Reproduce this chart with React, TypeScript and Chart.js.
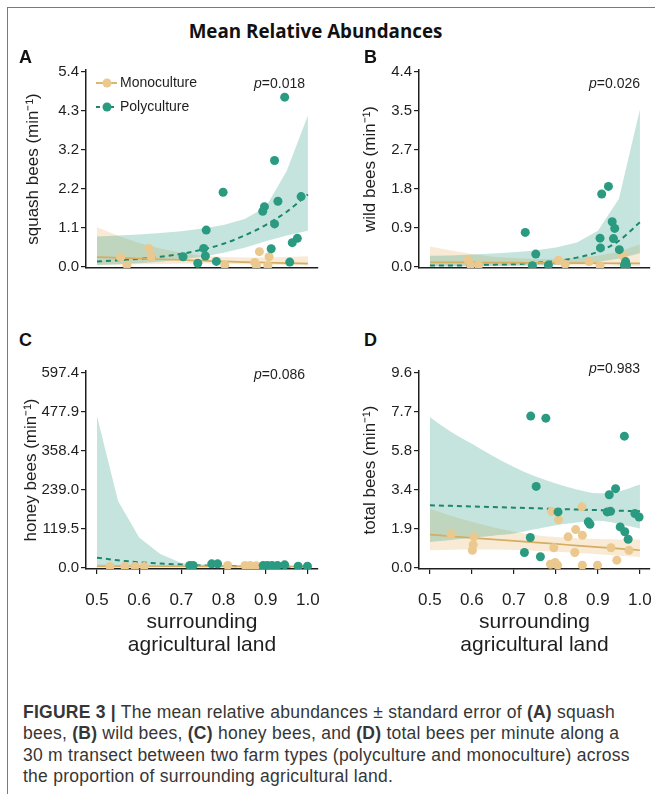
import React, { useEffect, useRef } from 'react';
import { Chart, registerables } from 'chart.js';

Chart.register(...registerables);
Chart.defaults.font.family = "'Liberation Sans', Arial, sans-serif";

// ---------- shared ----------
const fitX = [0.5, 0.55, 0.6, 0.65, 0.7, 0.75, 0.8, 0.85, 0.9, 0.95, 1.0];
const xTicks = [0.5, 0.6, 0.7, 0.8, 0.9, 1.0];
const xTickLabels = ['0.5', '0.6', '0.7', '0.8', '0.9', '1.0'];
const xTitle = ['surrounding', 'agricultural land'];
const legendLabels = ['Monoculture', 'Polyculture'];
const mainTitle = 'Mean Relative Abundances';

// ---------- panel A: squash bees ----------
const aYTicks = [0, 1.08, 2.16, 3.24, 4.32, 5.4];
const aYLabels = ['0.0', '1.1', '2.2', '3.2', '4.3', '5.4'];
const aPolyX = [0.945, 0.921, 0.799, 0.984, 0.929, 0.897, 0.893, 0.921, 0.759, 0.753, 0.975, 0.963, 0.913, 0.704, 0.757, 0.783, 0.739, 0.957];
const aPolyY = [4.7, 2.94, 2.06, 1.94, 1.81, 1.66, 1.53, 1.18, 1.01, 0.5, 0.78, 0.66, 0.49, 0.27, 0.29, 0.14, 0.09, 0.12];
const aMonoX = [0.623, 0.556, 0.629, 0.571, 0.803, 0.885, 0.908, 0.874, 0.878, 0.905];
const aMonoY = [0.5, 0.25, 0.27, 0.04, 0.04, 0.41, 0.27, 0.11, 0.02, 0.02];
const aPolyFit = [0.14, 0.17, 0.21, 0.27, 0.35, 0.47, 0.63, 0.86, 1.15, 1.52, 2.0];
const aPolyLo = [0.04, 0.06, 0.09, 0.13, 0.19, 0.27, 0.38, 0.52, 0.7, 0.86, 0.99];
const aPolyHi = [0.83, 0.86, 0.89, 0.93, 0.98, 1.05, 1.15, 1.32, 1.64, 2.66, 4.19];
const aMonoFit = [0.26, 0.24, 0.22, 0.2, 0.18, 0.16, 0.14, 0.12, 0.11, 0.09, 0.08];
const aMonoLo = [0.04, 0.05, 0.06, 0.07, 0.08, 0.08, 0.07, 0.06, 0.05, 0.04, 0.03];
const aMonoHi = [1.09, 0.85, 0.65, 0.5, 0.38, 0.3, 0.26, 0.25, 0.25, 0.26, 0.28];

// ---------- panel B: wild bees ----------
const bYTicks = [0, 0.88, 1.76, 2.64, 3.52, 4.4];
const bYLabels = ['0.0', '0.9', '1.8', '2.7', '3.5', '4.4'];
const bPolyX = [0.727, 0.752, 0.744, 0.782, 0.909, 0.925, 0.905, 0.906, 0.934, 0.94, 0.937, 0.951, 0.966, 0.968, 0.963];
const bPolyY = [0.77, 0.28, 0.015, 0.03, 1.64, 1.81, 0.64, 0.42, 1.01, 0.86, 0.63, 0.38, 0.11, 0.03, 0.03];
const bMonoX = [0.591, 0.597, 0.616, 0.806, 0.822, 0.879, 0.905, 0.959, 0.964];
const bMonoY = [0.14, 0.03, 0.03, 0.14, 0.05, 0.11, 0.015, 0.24, 0.05];
const bPolyFit = [0.02, 0.02, 0.03, 0.04, 0.05, 0.08, 0.12, 0.2, 0.33, 0.58, 1.0];
const bPolyLo = [0, 0, 0.005, 0.01, 0.01, 0.02, 0.03, 0.06, 0.1, 0.18, 0.3];
const bPolyHi = [0.24, 0.25, 0.27, 0.29, 0.32, 0.36, 0.43, 0.54, 0.81, 1.53, 3.55];
const bMonoFit = [0.09, 0.09, 0.09, 0.085, 0.085, 0.08, 0.08, 0.075, 0.075, 0.07, 0.07];
const bMonoLo = [0.01, 0.015, 0.02, 0.02, 0.025, 0.025, 0.025, 0.02, 0.02, 0.015, 0.01];
const bMonoHi = [0.45, 0.36, 0.28, 0.22, 0.19, 0.17, 0.17, 0.19, 0.24, 0.33, 0.5];

// ---------- panel C: honey bees ----------
const cYTicks = [0, 119.48, 238.96, 358.44, 477.92, 597.4];
const cYLabels = ['0.0', '119.5', '239.0', '358.4', '477.9', '597.4'];
const cPolyX = [0.72, 0.728, 0.772, 0.786, 0.894, 0.904, 0.915, 0.928, 0.945, 0.977, 0.999];
const cPolyY = [6, 6, 11, 11, 6, 6, 6, 6, 8, 4, 4];
const cMonoX = [0.531, 0.566, 0.59, 0.612, 0.81, 0.851, 0.863, 0.877];
const cMonoY = [3, 3, 3, 3, 6, 6, 6, 5];
const cPolyFit = [30, 22, 16, 12, 9, 6, 4.5, 3.5, 2.8, 2.2, 1.8];
const cPolyLo = [2.5, 2, 1.6, 1.2, 1, 0.8, 0.6, 0.5, 0.4, 0.3, 0.2];
const cPolyHi = [465, 204, 92, 41, 14, 9, 7, 6, 5, 5, 5];
const cMonoFit = [3.5, 3.4, 3.3, 3.2, 3.2, 3.1, 3.0, 3.0, 2.9, 2.9, 2.8];
const cMonoLo = [1, 1.2, 1.4, 1.5, 1.6, 1.7, 1.8, 1.8, 1.8, 1.7, 1.6];
const cMonoHi = [9, 8, 7, 6.5, 6, 5.6, 5.2, 5, 4.8, 4.8, 4.8];

// ---------- panel D: total bees ----------
const dYTicks = [0, 1.92, 3.84, 5.76, 7.68, 9.6];
const dYLabels = ['0.0', '1.9', '3.4', '5.8', '7.7', '9.6'];
const dPolyX = [0.74, 0.776, 0.963, 0.753, 0.942, 0.927, 0.805, 0.922, 0.93, 0.988, 0.998, 0.877, 0.881, 0.953, 0.964, 0.972, 0.739, 0.725, 0.763];
const dPolyY = [7.47, 7.37, 6.48, 4.0, 3.89, 3.59, 2.74, 2.74, 2.77, 2.66, 2.49, 2.25, 2.13, 2.0, 1.76, 1.39, 1.48, 0.74, 0.53];
const dMonoX = [0.55, 0.605, 0.603, 0.601, 0.79, 0.862, 0.806, 0.847, 0.829, 0.863, 0.795, 0.845, 0.931, 0.974, 0.945, 0.787, 0.798, 0.804, 0.863, 0.899];
const dMonoY = [1.64, 1.51, 1.12, 0.85, 2.76, 2.99, 2.36, 1.87, 1.51, 1.59, 0.97, 0.74, 0.97, 0.85, 0.36, 0.16, 0.25, 0.11, 0.11, 0.11];
const dPolyFit = [3.07, 3.04, 3.01, 2.98, 2.95, 2.92, 2.89, 2.86, 2.83, 2.8, 2.77];
const dPolyLo = [1.26, 1.36, 1.47, 1.57, 1.67, 1.88, 2.08, 2.22, 2.3, 2.15, 1.92];
const dPolyHi = [7.42, 6.7, 6.1, 5.5, 4.96, 4.5, 4.14, 3.85, 3.66, 3.75, 4.09];
const dMonoFit = [1.62, 1.54, 1.46, 1.39, 1.31, 1.24, 1.16, 1.08, 1.0, 0.93, 0.85];
const dMonoLo = [0.85, 0.87, 0.88, 0.88, 0.86, 0.83, 0.78, 0.72, 0.65, 0.58, 0.52];
const dMonoHi = [2.9, 2.55, 2.25, 1.98, 1.76, 1.6, 1.5, 1.44, 1.4, 1.38, 1.38];

// ---------- styles ----------
const TEAL = '#2a9a80';
const TEAL_LINE = '#1d876d';
const TAN = '#ebc88e';
const TAN_LINE = '#d6ae62';
const TEAL_BAND = 'rgba(42,157,130,0.27)';
const TAN_BAND = 'rgba(232,190,120,0.32)';
const INK = '#1e1e1e';
const FONT = "'Liberation Sans', Arial, sans-serif";

type Spec = {
  yTitle: string;
  yTicks: number[];
  yLabels: string[];
  polyX: number[]; polyY: number[];
  monoX: number[]; monoY: number[];
  polyFit: number[]; polyLo: number[]; polyHi: number[];
  monoFit: number[]; monoLo: number[]; monoHi: number[];
  bottomRow: boolean;
  smoothBands: boolean;
  legend: boolean;
};

type Box = { left: number; top: number; w: number; h: number; yw: number; xh: number; padTop: number; padRight: number; titlePad: number };

const zip = (xs: number[], ys: number[]) => xs.map((x, i) => ({ x, y: ys[i] }));

const legendPlugin = {
  id: 'insetLegend',
  afterDatasetsDraw(chart: any) {
    const { ctx, chartArea } = chart;
    const items = [
      { label: legendLabels[0], fill: TAN, line: TAN_LINE, dash: [] as number[] },
      { label: legendLabels[1], fill: TEAL, line: TEAL_LINE, dash: [4, 3] },
    ];
    items.forEach((it, i) => {
      const y = chartArea.top + 13 + i * 24;
      const x0 = chartArea.left + 10;
      ctx.save();
      ctx.strokeStyle = it.line;
      ctx.lineWidth = 1.8;
      ctx.setLineDash(it.dash);
      ctx.beginPath();
      ctx.moveTo(x0, y);
      ctx.lineTo(x0 + 21, y);
      ctx.stroke();
      ctx.setLineDash([]);
      ctx.fillStyle = it.fill;
      ctx.beginPath();
      ctx.arc(x0 + 11, y, 4.5, 0, Math.PI * 2);
      ctx.fill();
      ctx.fillStyle = INK;
      ctx.font = `14px ${FONT}`;
      ctx.textBaseline = 'middle';
      ctx.textAlign = 'left';
      ctx.fillText(it.label, x0 + 24, y);
      ctx.restore();
    });
  },
};

function buildConfig(p: Spec, b: Box): any {
  const band = (ys: number[], fill: any, color: string) => ({
    data: zip(fitX, ys),
    borderWidth: 0,
    borderColor: 'rgba(0,0,0,0)',
    pointRadius: 0,
    fill,
    backgroundColor: color,
    tension: 0,
    cubicInterpolationMode: p.smoothBands ? 'monotone' : 'default',
    order: 3,
  });
  const top = p.yTicks[p.yTicks.length - 1];
  return {
    type: 'line',
    data: {
      datasets: [
        band(p.polyHi, '+1', TEAL_BAND),
        band(p.polyLo, false, 'rgba(0,0,0,0)'),
        band(p.monoHi, '+1', TAN_BAND),
        band(p.monoLo, false, 'rgba(0,0,0,0)'),
        {
          data: zip(fitX, p.monoFit), borderColor: TAN_LINE, borderWidth: 1.7, pointRadius: 0, fill: false,
          cubicInterpolationMode: 'monotone', order: 2,
        },
        {
          data: zip(fitX, p.polyFit), borderColor: TEAL_LINE, borderWidth: 2, borderDash: [5, 4], pointRadius: 0, fill: false,
          cubicInterpolationMode: 'monotone', order: 2,
        },
        {
          data: zip(p.monoX, p.monoY), showLine: false, pointRadius: 4.5, pointBackgroundColor: TAN,
          pointBorderWidth: 0, pointBorderColor: 'rgba(0,0,0,0)', order: 1,
        },
        {
          data: zip(p.polyX, p.polyY), showLine: false, pointRadius: 4.5, pointBackgroundColor: TEAL,
          pointBorderWidth: 0, pointBorderColor: 'rgba(0,0,0,0)', order: 0,
        },
      ],
    },
    options: {
      animation: false,
      responsive: false,
      events: [],
      layout: { padding: { top: b.padTop, right: b.padRight, left: 0, bottom: 0 } },
      plugins: { legend: { display: false }, tooltip: { enabled: false } },
      scales: {
        x: {
          type: 'linear',
          min: 0.474,
          max: 1.024,
          afterBuildTicks: (s: any) => { s.ticks = xTicks.map((v) => ({ value: v })); },
          afterFit: (s: any) => { s.height = b.xh; },
          ticks: {
            display: p.bottomRow, autoSkip: false, maxRotation: 0, minRotation: 0, padding: 16,
            color: INK, font: { size: 17 },
            callback: (_v: any, i: number) => xTickLabels[i],
          },
          grid: { display: p.bottomRow, drawOnChartArea: false, drawTicks: true, tickLength: 5, color: INK, lineWidth: 1.2 },
          border: { display: true, color: INK, width: 1.5 },
          title: {
            display: p.bottomRow, text: xTitle, color: INK,
            font: { size: 21, lineHeight: 1.1 }, padding: { top: 0, bottom: 8 },
          },
        },
        y: {
          type: 'linear',
          min: -0.008 * top,
          max: 1.01 * top,
          afterBuildTicks: (s: any) => { s.ticks = p.yTicks.map((v) => ({ value: v })); },
          afterFit: (s: any) => { s.width = b.yw; },
          ticks: {
            autoSkip: false, padding: 2, color: INK, font: { size: 15 },
            callback: (_v: any, i: number) => p.yLabels[i],
          },
          grid: { display: true, drawOnChartArea: false, drawTicks: true, tickLength: 5, color: INK, lineWidth: 1.2 },
          border: { display: true, color: INK, width: 1.5 },
          title: {
            display: true, text: p.yTitle, color: INK,
            font: { size: 17, lineHeight: 1.2 }, padding: { top: b.titlePad, bottom: 0 },
          },
        },
      },
    },
    plugins: p.legend ? [legendPlugin] : [],
  };
}

function Panel({ spec, box }: { spec: Spec; box: Box }) {
  const ref = useRef<HTMLCanvasElement>(null);
  useEffect(() => {
    const chart = new Chart(ref.current as HTMLCanvasElement, buildConfig(spec, box));
    return () => chart.destroy();
  }, []);
  return (
    <canvas
      ref={ref}
      width={box.w}
      height={box.h}
      style={{ position: 'absolute', left: box.left, top: box.top, width: box.w, height: box.h }}
    />
  );
}

const specA: Spec = {
  yTitle: 'squash bees (min⁻¹)', yTicks: aYTicks, yLabels: aYLabels,
  polyX: aPolyX, polyY: aPolyY, monoX: aMonoX, monoY: aMonoY,
  polyFit: aPolyFit, polyLo: aPolyLo, polyHi: aPolyHi, monoFit: aMonoFit, monoLo: aMonoLo, monoHi: aMonoHi,
  bottomRow: false, smoothBands: false, legend: true,
};
const specB: Spec = {
  yTitle: 'wild bees (min⁻¹)', yTicks: bYTicks, yLabels: bYLabels,
  polyX: bPolyX, polyY: bPolyY, monoX: bMonoX, monoY: bMonoY,
  polyFit: bPolyFit, polyLo: bPolyLo, polyHi: bPolyHi, monoFit: bMonoFit, monoLo: bMonoLo, monoHi: bMonoHi,
  bottomRow: false, smoothBands: false, legend: false,
};
const specC: Spec = {
  yTitle: 'honey bees (min⁻¹)', yTicks: cYTicks, yLabels: cYLabels,
  polyX: cPolyX, polyY: cPolyY, monoX: cMonoX, monoY: cMonoY,
  polyFit: cPolyFit, polyLo: cPolyLo, polyHi: cPolyHi, monoFit: cMonoFit, monoLo: cMonoLo, monoHi: cMonoHi,
  bottomRow: true, smoothBands: false, legend: false,
};
const specD: Spec = {
  yTitle: 'total bees (min⁻¹)', yTicks: dYTicks, yLabels: dYLabels,
  polyX: dPolyX, polyY: dPolyY, monoX: dMonoX, monoY: dMonoY,
  polyFit: dPolyFit, polyLo: dPolyLo, polyHi: dPolyHi, monoFit: dMonoFit, monoLo: dMonoLo, monoHi: dMonoHi,
  bottomRow: true, smoothBands: true, legend: false,
};

const boxA: Box = { left: 10, top: 58, w: 313, h: 224, yw: 76, xh: 14, padTop: 12, padRight: 5, titlePad: 13 };
const boxB: Box = { left: 343, top: 58, w: 312, h: 224, yw: 76, xh: 14, padTop: 12, padRight: 5, titlePad: 17 };
const boxC: Box = { left: 10, top: 359, w: 330, h: 306, yw: 76, xh: 96, padTop: 12, padRight: 22, titlePad: 11.5 };
const boxD: Box = { left: 343, top: 359, w: 329, h: 306, yw: 76, xh: 96, padTop: 12, padRight: 22, titlePad: 17 };

const letterStyle: React.CSSProperties = {
  position: 'absolute', fontFamily: FONT, fontWeight: 700, fontSize: 18, lineHeight: '18px', color: '#111',
};
const pStyle: React.CSSProperties = {
  position: 'absolute', fontFamily: FONT, fontSize: 14, lineHeight: '16px', color: INK, textAlign: 'right', whiteSpace: 'nowrap',
};

function PValue({ value, right, top }: { value: string; right: number; top: number }) {
  return (
    <div style={{ ...pStyle, right, top }}>
      <i>p</i>={value}
    </div>
  );
}

export default function App() {
  return (
    <div
      style={{
        position: 'absolute', left: 0, top: 0, width: 655, height: 794, overflow: 'hidden', background: '#fff',
      }}
    >
      <div
        style={{
          position: 'absolute', left: 7, top: 7, width: 660, height: 800,
          borderTop: '1px solid #7a7a7a', borderLeft: '1px solid #7a7a7a',
        }}
      />
      <div
        style={{
          position: 'absolute', left: 0, top: 20, width: 631, textAlign: 'center', fontFamily: "'Open Sans', sans-serif",
          fontWeight: 700, fontSize: 18.8, lineHeight: '22px', color: '#111',
        }}
      >
        {mainTitle}
      </div>

      <Panel spec={specA} box={boxA} />
      <Panel spec={specB} box={boxB} />
      <Panel spec={specC} box={boxC} />
      <Panel spec={specD} box={boxD} />

      <div style={{ ...letterStyle, left: 19, top: 48 }}>A</div>
      <div style={{ ...letterStyle, left: 364, top: 48 }}>B</div>
      <div style={{ ...letterStyle, left: 19, top: 331 }}>C</div>
      <div style={{ ...letterStyle, left: 364, top: 331 }}>D</div>

      <PValue value="0.018" right={350} top={75} />
      <PValue value="0.026" right={15} top={75} />
      <PValue value="0.086" right={350} top={366} />
      <PValue value="0.983" right={15} top={360} />

      <div
        style={{
          position: 'absolute', left: 23, top: 702, fontFamily: FONT, fontSize: 17.5, lineHeight: '21.3px',
          letterSpacing: '0.25px', color: '#363636', whiteSpace: 'nowrap',
        }}
      >
        <div><b>FIGURE 3 |</b> The mean relative abundances ± standard error of <b>(A)</b> squash</div>
        <div>bees, <b>(B)</b> wild bees, <b>(C)</b> honey bees, and <b>(D)</b> total bees per minute along a</div>
        <div>30 m transect between two farm types (polyculture and monoculture) across</div>
        <div>the proportion of surrounding agricultural land.</div>
      </div>
    </div>
  );
}
